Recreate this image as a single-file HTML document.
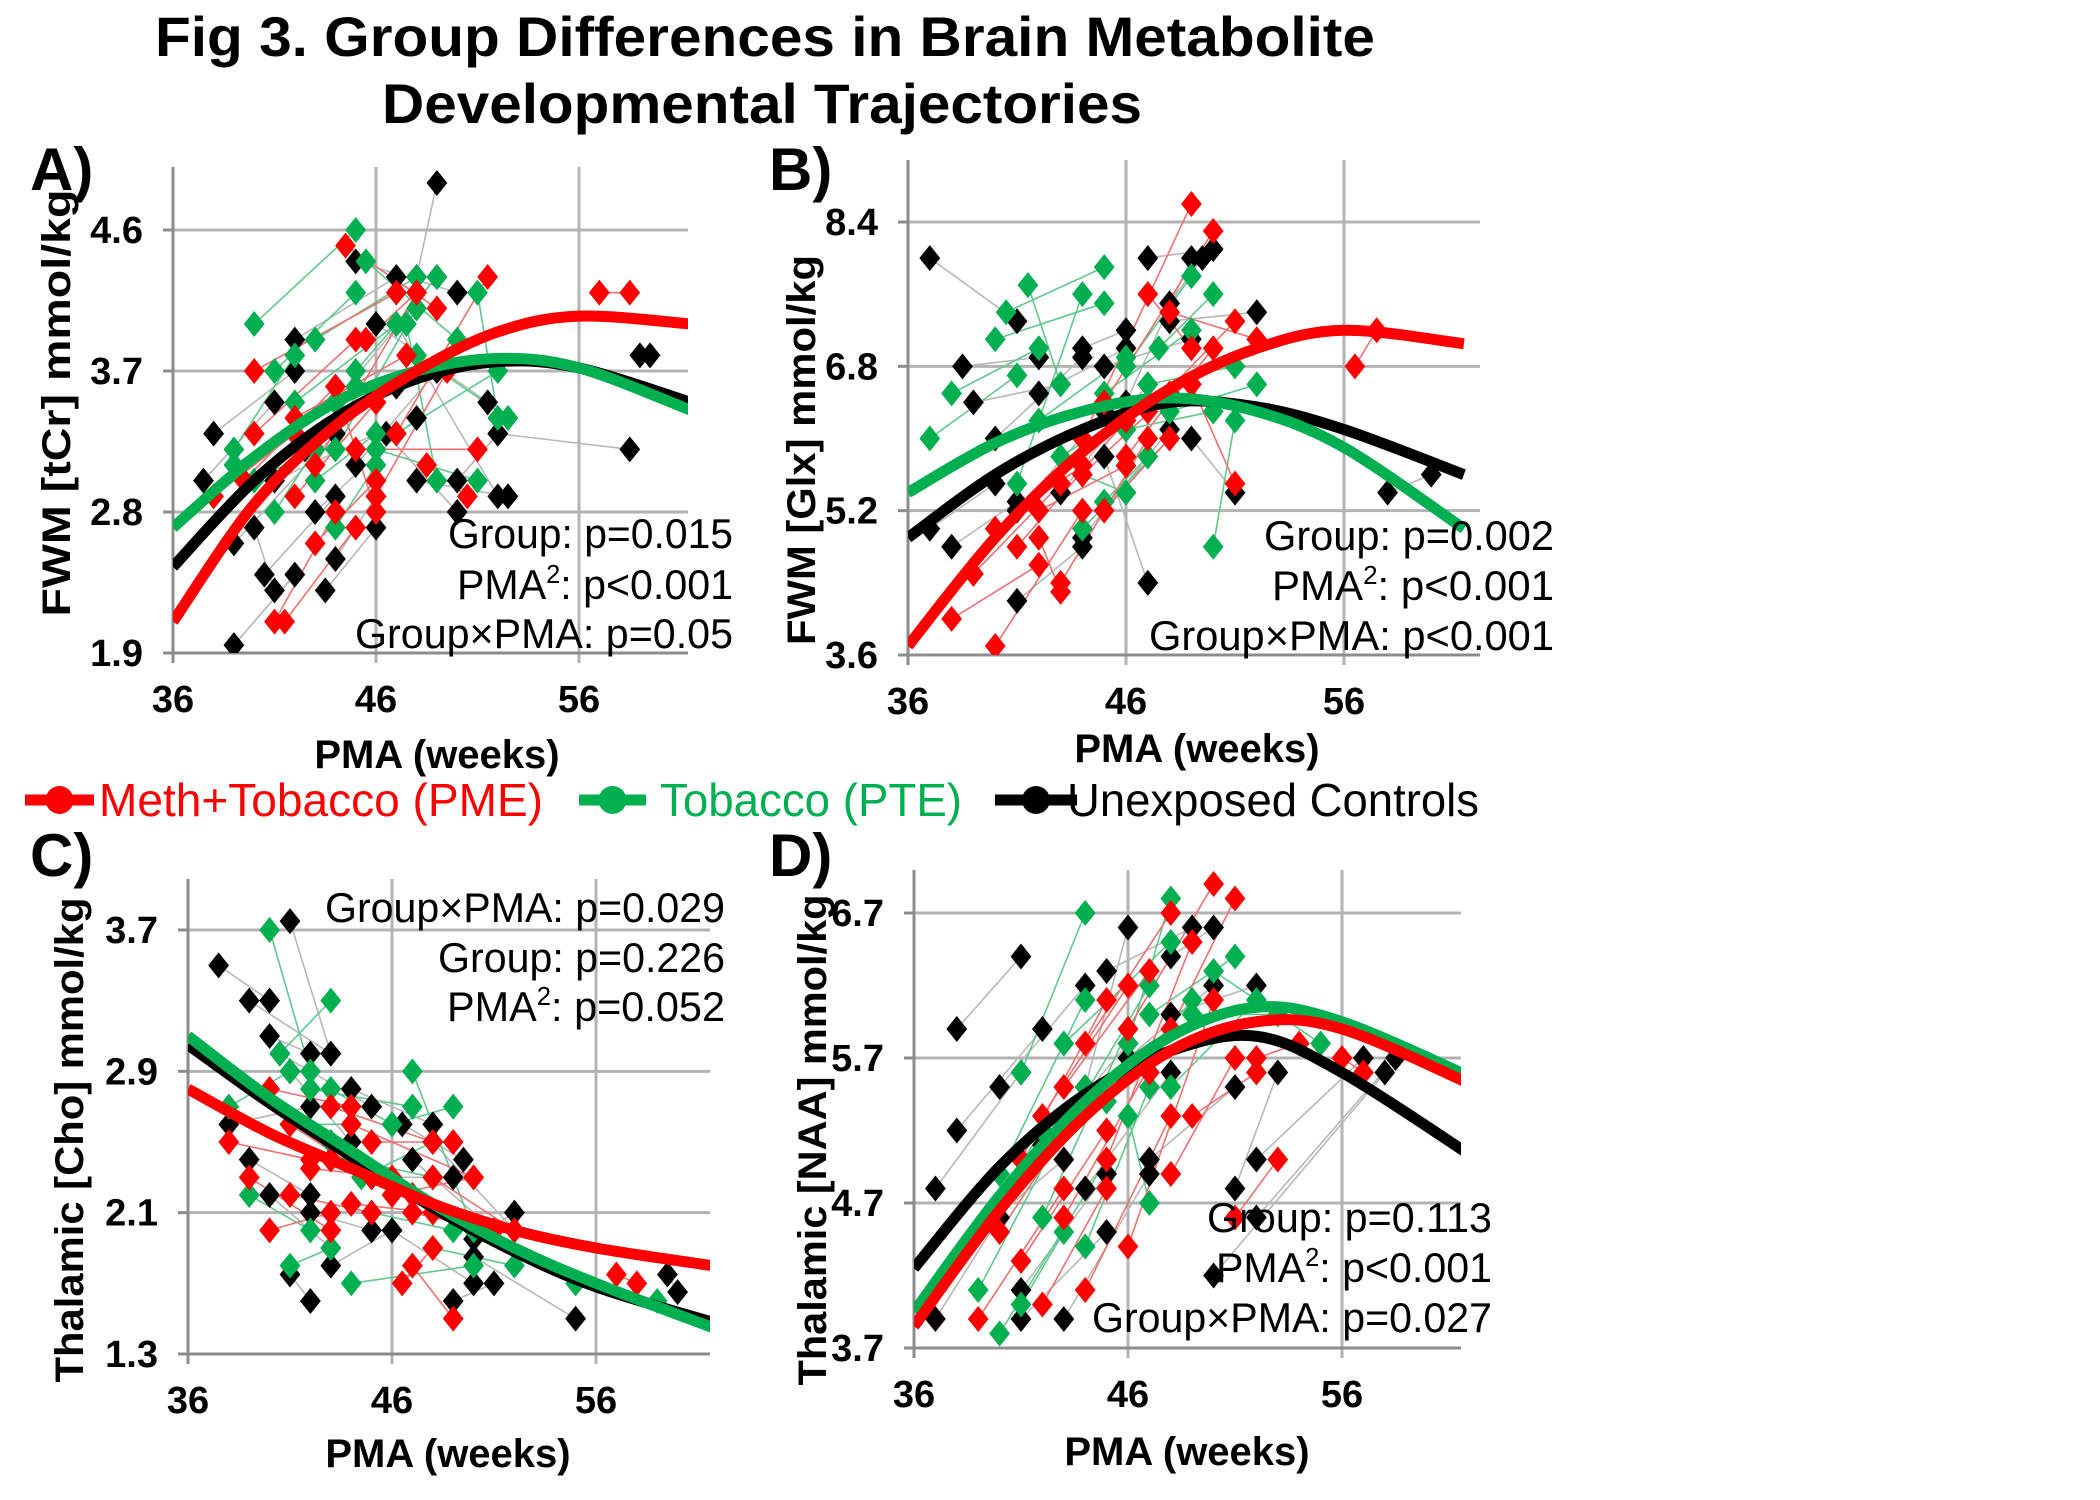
<!DOCTYPE html>
<html><head><meta charset="utf-8"><style>
html,body{margin:0;padding:0;background:#fff;}
svg{display:block;}
.t{font-family:"Liberation Sans Narrow","Liberation Sans",sans-serif;}
</style></head><body>
<svg id="fig" width="2100" height="1500" viewBox="0 0 2100 1500" xmlns="http://www.w3.org/2000/svg">
<g class="t" font-weight="bold" font-size="56" text-anchor="middle">
<text x="765" y="56" textLength="1220" lengthAdjust="spacingAndGlyphs">Fig 3. Group Differences in Brain Metabolite</text>
<text x="762" y="123" textLength="760" lengthAdjust="spacingAndGlyphs">Developmental Trajectories</text>
</g>
<g id="legend"></g>
<g id="panels"></g>
</svg>
<script>
// ---------- DATA ----------
const groups = ["Meth+Tobacco (PME)", "Tobacco (PTE)", "Unexposed Controls"];
const fitPMA_A = [36, 40, 44, 48, 52, 56, 61.5];
const fitA_PME = [2.1, 2.85, 3.35, 3.7, 3.95, 4.05, 4.0];
const fitA_PTE = [2.7, 3.15, 3.5, 3.7, 3.78, 3.72, 3.45];
const fitA_CTL = [2.45, 3.0, 3.4, 3.65, 3.76, 3.72, 3.5];
const fitPMA_B = [36, 40, 44, 48, 52, 56, 61.5];
const fitB_PME = [3.7, 4.9, 5.85, 6.55, 7.0, 7.2, 7.05];
const fitB_PTE = [5.4, 5.95, 6.3, 6.45, 6.3, 5.9, 5.0];
const fitB_CTL = [4.9, 5.6, 6.1, 6.4, 6.35, 6.1, 5.6];
const fitPMA_C = [36, 40, 44, 48, 52, 56, 61.7];
const fitC_PME = [2.8, 2.55, 2.35, 2.15, 2.0, 1.9, 1.8];
const fitC_PTE = [3.1, 2.75, 2.45, 2.15, 1.9, 1.7, 1.45];
const fitC_CTL = [3.05, 2.72, 2.42, 2.13, 1.88, 1.68, 1.48];
const fitPMA_D = [36, 40, 44, 48, 52, 56, 62.3];
const fitD_PME = [3.85, 4.65, 5.3, 5.75, 5.95, 5.9, 5.5];
const fitD_PTE = [3.95, 4.75, 5.4, 5.85, 6.05, 5.95, 5.55];
const fitD_CTL = [4.25, 4.95, 5.45, 5.75, 5.85, 5.6, 5.0];

// subject scan pairs: [pma1, val1, pma2, val2]
const scansA_PME = [[39.5,3.0,44,3.6],[40,3.7,47,4.2],[41,2.1,44,2.8],[41.5,2.1,45,2.7],[40,3.3,45,3.9],[42,2.9,46,3.5],[43,2.6,46,3.0],[43,3.1,48,4.2],[44.5,4.5,49,4.1],[45,3.2,51,3.2],[45.5,3.9,48,4.2],[46,2.9,49.5,3.7],[47,3.3,51.5,4.3],[42,3.4,47.5,3.8],[44,3.6,46,2.8],[57,4.2,58.5,4.2],[38,2.9,42,3.3],[48.5,3.1,50.5,2.9]];
const scansA_PTE = [[39,3.2,42,3.8],[40,4.0,45,4.6],[41,3.7,45,4.2],[39,3.1,44,3.5],[42,3.5,47,4.0],[43,3.0,46,3.3],[44,3.2,48,4.1],[45,3.7,49,4.3],[45.5,4.4,50,3.9],[41,2.8,45,3.6],[46,3.2,51,3.0],[47,3.3,52,3.7],[48,3.8,52.5,3.4],[44,2.7,46,3.1],[43,3.9,48,4.3],[51,4.2,52,3.4],[40,3.0,43,3.2],[47.5,4.0,49,3.0]];
const scansA_CTL = [[38,3.3,42,3.7],[37.5,3.0,41,3.5],[39,1.95,42,2.4],[39,2.6,44,3.3],[40,2.7,41,2.3],[40.5,2.4,44,2.9],[41,3.0,46,3.3],[42,3.9,47,4.3],[42.5,3.2,47,3.6],[43,2.8,48,3.4],[44,3.5,49,4.3],[45,4.4,50,4.2],[46,4.0,51.5,3.5],[46.5,3.3,50,2.8],[47,4.0,52,2.9],[48,3.0,52.5,2.9],[49,4.9,48,4.3],[59,3.8,59.5,3.8],[58.5,3.2,52,3.3],[44,2.5,46,2.9],[45,3.1,49,3.7],[43.5,2.3,46,2.7],[50,3.0,52,3.3]];
const scansB_PME = [[38,4.0,42,4.6],[39,4.5,43,5.5],[40,3.7,44,5.2],[40,5.0,44,5.7],[41,4.8,46,6.2],[42,5.2,46,5.7],[43,4.4,47,6.0],[44,5.6,48,6.5],[44,6.0,49,8.6],[45,6.4,50,8.3],[46,5.8,50,7.0],[47,6.3,51,7.3],[48,7.4,52,7.1],[45,5.2,48,6.0],[47,7.6,49,7.0],[56.5,6.8,57.5,7.2],[42,4.9,43,4.3],[49,6.6,51,5.5]];
const scansB_PTE = [[37,6.0,41,6.7],[38,6.5,42,7.0],[40,7.1,45,7.5],[40.5,7.4,45,7.9],[41,5.5,44,7.6],[42,6.2,46,6.9],[43,5.8,47,6.4],[44,5.0,48,6.0],[45,6.5,49,7.2],[46,6.1,50,6.3],[47,6.6,51,6.8],[47.5,7.0,50,7.6],[48,6.3,52,6.6],[44,5.6,46,5.4],[46,6.8,49,7.8],[50,4.8,51,6.2],[41.5,7.7,43,6.6],[45,5.3,47,5.8]];
const scansB_CTL = [[37,8.0,41,7.3],[37,5.0,40,5.5],[38,4.8,41,5.3],[38.5,6.8,42,6.9],[39,6.4,43,6.6],[40,6.0,44,6.9],[41,5.2,45,6.3],[41,4.2,44,4.8],[42,6.5,46,7.0],[43,5.4,47,6.6],[44,4.9,48,6.1],[45,6.8,49,7.1],[46,6.4,49,8.0],[47,8.0,50,8.1],[48,7.3,52,7.4],[49,6.0,51,5.4],[47,4.4,45,5.8],[58,5.4,60,5.6],[49.5,8.0,48,7.5],[44,7.0,46,7.2]];
const scansC_PME = [[38,2.5,42,2.4],[39,2.3,43,2.0],[40,2.8,44,2.7],[40,2.0,43,2.1],[41,2.6,45,2.3],[42,2.35,46,2.3],[43,2.4,47,2.2],[43,2.7,48,2.5],[44,2.15,48,2.1],[45,2.5,49,2.5],[46,2.2,50,2.3],[46.5,1.7,48,1.9],[47,2.1,51,2.0],[48,2.3,52,2.0],[49,1.5,47,1.8],[57,1.75,58,1.7],[44,2.6,50,2.3],[41,2.2,45,2.1]];
const scansC_PTE = [[38,2.7,41,2.9],[40,3.7,42,2.9],[40.5,3.0,43,3.3],[41,2.6,44,2.6],[42,2.8,47,2.7],[43,2.5,47,2.2],[44,2.4,48,2.3],[44.5,2.3,48,2.5],[45,2.1,49,2.0],[46,2.6,49,2.7],[47,2.2,51,2.0],[48,1.9,52,1.8],[44,1.7,50,1.8],[39,2.2,42,2.0],[41,1.8,43,1.9],[47,2.9,50,2.0],[55,1.7,59,1.6],[43,2.8,46,2.6]];
const scansC_CTL = [[37.5,3.5,40,3.3],[39,3.3,43,3.0],[40,3.1,42,3.0],[40.5,3.0,45,2.7],[41,3.75,43,3.0],[41,2.9,44,2.5],[38,2.6,42,2.7],[39,2.4,42,2.2],[40,2.2,43,1.9],[42,2.1,45,2.0],[43,1.8,46,2.0],[44,2.8,48,2.6],[45,2.3,49,2.3],[46,2.0,50,1.7],[47,2.4,51,2.0],[48,2.5,52,2.0],[49,1.6,51,1.7],[55,1.5,50,1.85],[59.5,1.75,60,1.65],[46.5,2.6,49.5,2.4],[50,1.95,52,2.1],[42,1.6,41,1.75]];
const scansD_PME = [[39,3.9,43,4.8],[40,4.5,44,5.4],[41,5.0,45,6.1],[41,4.3,45,5.2],[42,5.3,46,6.2],[43,5.5,47,6.3],[43,4.6,48,5.9],[44,4.1,48,5.3],[44,5.8,48,6.7],[45,5.0,49,6.5],[46,5.9,50,6.9],[46,4.4,50,6.1],[47,5.6,51,6.8],[48,4.9,51,5.7],[49,5.3,52,5.6],[52,5.7,54,5.8],[56,5.7,57,5.6],[42,4.0,45,4.8],[51,4.6,53,5.0]];
const scansD_PTE = [[38,4.3,42,5.2],[39,4.1,44,5.5],[40,3.8,45,5.0],[40,4.9,44,6.1],[41,5.6,44,6.7],[42,4.6,46,5.9],[43,5.2,47,6.2],[43,5.8,48,6.5],[44,4.4,47,5.5],[45,5.4,49,6.1],[46,5.8,48,6.8],[47,6.0,51,6.4],[47,4.7,46,5.3],[48,5.5,52,6.1],[49,6.0,53,6.0],[50,6.3,55,5.8],[41,4.0,43,4.5]];
const scansD_CTL = [[37,3.9,40,4.6],[37,4.8,41,5.6],[38,5.2,42,5.9],[38,5.9,41,6.4],[39,4.5,43,5.0],[40,5.5,44,6.2],[41,4.1,45,4.9],[41,3.9,45,4.5],[42,5.1,46,5.8],[43,3.9,47,4.9],[44,4.8,48,5.6],[44,5.5,46,6.6],[45,6.3,49,6.6],[46,5.7,50,6.2],[47,5.0,51,5.5],[48,6.0,52,6.2],[50,4.2,58,5.6],[52,5.0,57,5.7],[53,5.6,51,4.8],[52,4.6,58.5,5.7],[48,6.4,50,6.6]];

const xTicks = [36, 46, 56];
const yTicksA = [1.9, 2.8, 3.7, 4.6];
const yTicksB = [3.6, 5.2, 6.8, 8.4];
const yTicksC = [1.3, 2.1, 2.9, 3.7];
const yTicksD = [3.7, 4.7, 5.7, 6.7];
const statsA = ["Group: p=0.015", "PMA²: p<0.001", "Group×PMA: p=0.05"];
const statsB = ["Group: p=0.002", "PMA²: p<0.001", "Group×PMA: p<0.001"];
const statsC = ["Group×PMA: p=0.029", "Group: p=0.226", "PMA²: p=0.052"];
const statsD = ["Group: p=0.113", "PMA²: p<0.001", "Group×PMA: p=0.027"];

// ---------- LAYOUT ----------
const NS = "http://www.w3.org/2000/svg";
const COL = ["#ff0000", "#00b050", "#000000"];
const LIGHT = ["#f07070", "#5fc98c", "#b8b8b8"];
function mk(tag, attrs, parent) {
  const e = document.createElementNS(NS, tag);
  for (const k in attrs) e.setAttribute(k, attrs[k]);
  parent.appendChild(e); return e;
}
const panels = [
  {id:"a", letter:"A)", lx:30, ly:190, left:173, right:688, top:167, x0:36, x1:46, px0:173, px1:376,
   yt:yTicksA, py0:653, py1:230, ylab:"FWM [tCr] mmol/kg", ylx:70, yly:403, ylw:427,
   xlab:{x:437,y:768}, stats:statsA, sx:733, sy:[548,599,648], sw:[285,276,378],
   fitX:fitPMA_A, fits:[fitA_PME, fitA_PTE, fitA_CTL], scans:[scansA_PME, scansA_PTE, scansA_CTL]},
  {id:"b", letter:"B)", lx:769, ly:190, left:908, right:1480, top:160, x0:36, x1:46, px0:908, px1:1126,
   yt:yTicksB, py0:655, py1:222, ylab:"FWM [Glx] mmol/kg", ylx:815, yly:450, ylw:390,
   xlab:{x:1197,y:762}, stats:statsB, sx:1554, sy:[550,600,650], sw:[290,282,405],
   fitX:fitPMA_B, fits:[fitB_PME, fitB_PTE, fitB_CTL], scans:[scansB_PME, scansB_PTE, scansB_CTL]},
  {id:"c", letter:"C)", lx:30, ly:876, left:188, right:710, top:879, x0:36, x1:46, px0:188, px1:392,
   yt:yTicksC, py0:1354, py1:930, ylab:"Thalamic [Cho] mmol/kg", ylx:83, yly:1140, ylw:485,
   xlab:{x:448,y:1467}, stats:statsC, sx:725, sy:[922,972,1021], sw:[400,287,278],
   fitX:fitPMA_C, fits:[fitC_PME, fitC_PTE, fitC_CTL], scans:[scansC_PME, scansC_PTE, scansC_CTL]},
  {id:"d", letter:"D)", lx:769, ly:876, left:914, right:1461, top:870, x0:36, x1:46, px0:914, px1:1128,
   yt:yTicksD, py0:1348, py1:913, ylab:"Thalamic [NAA] mmol/kg", ylx:826, yly:1140, ylw:491,
   xlab:{x:1187,y:1465}, stats:statsD, sx:1492, sy:[1232,1282,1332], sw:[285,276,400],
   fitX:fitPMA_D, fits:[fitD_PME, fitD_PTE, fitD_CTL], scans:[scansD_PME, scansD_PTE, scansD_CTL]}
];
const root = document.getElementById("panels");
panels.forEach(p => {
  const yv0 = p.yt[0], yv1 = p.yt[p.yt.length-1];
  const X = v => p.px0 + (v - p.x0) * (p.px1 - p.px0) / (p.x1 - p.x0);
  const Y = v => p.py0 + (v - yv0) * (p.py1 - p.py0) / (yv1 - yv0);
  const g = mk("g", {}, root);
  
  
  const defs = mk("defs", {}, g);
  const cp = mk("clipPath", {id:"clip-"+p.id}, defs);
  mk("rect", {x:p.left, y:p.top, width:p.right-p.left, height:p.py0-p.top}, cp);
  p.yt.forEach((v,i) => {
    if (i === 0) return;
    const l = mk("line", {x1:p.left, x2:p.right, y1:Y(v), y2:Y(v), stroke:"#b3b3b3", "stroke-width":3}, g);
    
    
  });
  xTicks.forEach((v,i) => {
    if (i === 0) return;
    const l = mk("line", {x1:X(v), x2:X(v), y1:p.top, y2:p.py0+10, stroke:"#b3b3b3", "stroke-width":3}, g);
    
    
  });
  const ax = mk("path", {d:`M${p.left},${p.top}V${p.py0}H${p.right}M${p.left-10},${p.py0}H${p.left}M${p.left},${p.py0}v10`, stroke:"#8c8c8c", "stroke-width":3, fill:"none"}, g);
  
  
  p.yt.forEach(v => {
    mk("line", {x1:p.left-10, x2:p.left, y1:Y(v), y2:Y(v), stroke:"#8c8c8c", "stroke-width":3}, g);
    const t = mk("text", {x:p.left-30, y:Y(v)+13, "text-anchor":"end", "font-size":38, "font-weight":"bold", class:"t"}, g);
    t.textContent = v.toFixed(1);
    
    
  });
  xTicks.forEach(v => {
    const t = mk("text", {x:X(v), y:p.py0+59, "text-anchor":"middle", "font-size":38, "font-weight":"bold", class:"t"}, g);
    t.textContent = String(v);
    
    
  });
  const sg = mk("g", {"clip-path":`url(#clip-${p.id})`}, g);
  [2,1,0].forEach(gi => {
    p.scans[gi].forEach(s => {
      const l = mk("line", {x1:X(s[0]), y1:Y(s[1]), x2:X(s[2]), y2:Y(s[3]), stroke:LIGHT[gi], "stroke-width":1.6}, sg);
      
      
    });
  });
  [2,1,0].forEach(gi => {
    p.scans[gi].forEach(s => {
      [[s[0],s[1]],[s[2],s[3]]].forEach(pt => {
        const cx = X(pt[0]), cy = Y(pt[1]), r = 13;
        const d = mk("path", {d:`M${cx},${cy-r}L${cx+r*0.8},${cy}L${cx},${cy+r}L${cx-r*0.8},${cy}Z`, fill:COL[gi]}, sg);
        
        
      });
    });
  });
  [2,1,0].forEach(gi => {
    const xs = p.fitX, ys = p.fits[gi];
    const pts = xs.map((x,i) => [X(x), Y(ys[i])]);
    let d = `M${pts[0][0]},${pts[0][1]}`;
    for (let i = 0; i < pts.length-1; i++) {
      const p0 = pts[Math.max(0,i-1)], p1 = pts[i], p2 = pts[i+1], p3 = pts[Math.min(pts.length-1,i+2)];
      const c1 = [p1[0]+(p2[0]-p0[0])/6, p1[1]+(p2[1]-p0[1])/6];
      const c2 = [p2[0]-(p3[0]-p1[0])/6, p2[1]-(p3[1]-p1[1])/6];
      d += `C${c1[0]},${c1[1]} ${c2[0]},${c2[1]} ${p2[0]},${p2[1]}`;
    }
    const c = mk("path", {d, stroke:COL[gi], "stroke-width":11, fill:"none", "clip-path":`url(#clip-${p.id})`}, g);
    
    
  });
  const L = mk("text", {x:p.lx, y:p.ly, "font-size":60, "font-weight":"bold", class:"t"}, g);
  L.textContent = p.letter;
  
  
  const yl = mk("text", {x:0, y:0, transform:`translate(${p.ylx},${p.yly}) rotate(-90)`, "text-anchor":"middle", "font-size":40, "font-weight":"bold", textLength:p.ylw, lengthAdjust:"spacingAndGlyphs", style:'font-family:"Liberation Sans",sans-serif'}, g);
  yl.textContent = p.ylab;
  
  
  const xl = mk("text", {x:p.xlab.x, y:p.xlab.y, "text-anchor":"middle", "font-size":40, "font-weight":"bold", class:"t"}, g);
  xl.textContent = "PMA (weeks)";
  
  
  p.stats.forEach((s,i) => {
    const t = mk("text", {x:p.sx, y:p.sy[i], "text-anchor":"end", "font-size":42, class:"t", textLength:p.sw[i], lengthAdjust:"spacingAndGlyphs"}, g);
    if (s.indexOf("²") >= 0) {
      const parts = s.split("²");
      const a = mk("tspan", {}, t); a.textContent = parts[0];
      const b = mk("tspan", {dy:-16, "font-size":26}, t); b.textContent = "2";
      const c = mk("tspan", {dy:16}, t); c.textContent = parts[1];
    } else t.textContent = s;
    
    
  });
});
const lg = document.getElementById("legend");
const legX = [[25,94,99,444],[579,646,660,302],[995,1077,1067,412]];
groups.forEach((name, gi) => {
  const e = mk("g", {}, lg);
  
  
  const [a,b,tx,tw] = legX[gi];
  mk("line", {x1:a, x2:b, y1:800, y2:800, stroke:COL[gi], "stroke-width":11}, e);
  mk("circle", {cx:(a+b)/2, cy:800, r:14, fill:COL[gi]}, e);
  const t = mk("text", {x:tx, y:816, "font-size":46, fill:COL[gi], class:"t", textLength:tw, lengthAdjust:"spacingAndGlyphs"}, e);
  t.textContent = name;
});
</script>
</body></html>
